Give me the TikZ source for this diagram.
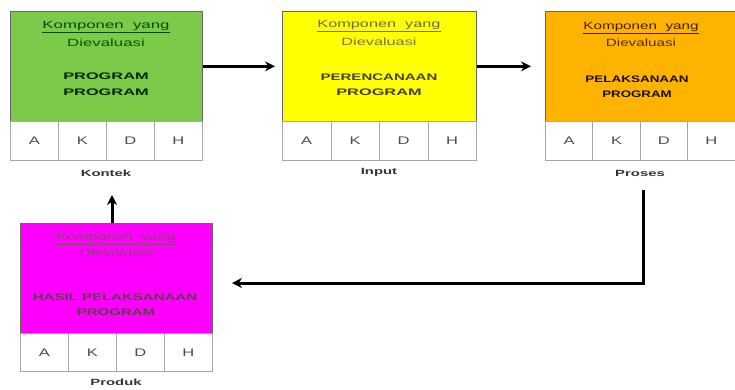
\documentclass[tikz,border=0pt]{standalone}
\usepackage{fontspec}
\setmainfont{Liberation Sans}
\usetikzlibrary{arrows.meta}
\definecolor{cgreen}{HTML}{7DC94A}
\definecolor{cyellow}{HTML}{FFFF00}
\definecolor{corange}{HTML}{FDB300}
\definecolor{cpink}{HTML}{FF00FF}
\newcommand{\sx}[2]{\scalebox{#1}[1]{#2}}
\tikzset{
  bigbox/.style={draw=black!60, line width=0.6pt, anchor=north west, minimum width=192pt, minimum height=110pt, inner sep=0pt},
  cellbox/.style={draw=black!35, line width=0.8pt, fill=white, anchor=north west, minimum width=48pt, minimum height=39pt, inner sep=0pt, font=\fontsize{11}{13}\selectfont, text=black!70},
  ttl/.style={font=\fontsize{10.5}{12}\selectfont, inner sep=0pt},
  bld/.style={font=\fontsize{9.5}{11}\selectfont\bfseries, inner sep=0pt},
  lbl/.style={font=\fontsize{9}{10}\selectfont\bfseries, text=black!80, inner sep=0pt},
  arr/.style={line width=3pt, -{Stealth[length=10pt,width=10pt]}}
}
\begin{document}
\begin{tikzpicture}[x=1pt,y=-1pt]
\useasboundingbox[fill=white] (0,0) rectangle (735,389);
% ---- box 1 (green)
\node[bigbox, fill=cgreen] (b1) at (10,11) {};
\node[ttl, text=green!30!black] (b1t1) at (106,27) {\sx{1.6}{\underline{Komponen\ \ yang}}};
\node[ttl, text=green!35!black] (b1t2) at (106,43) {\sx{1.6}{Dievaluasi}};
\node[bld, text=green!15!black] (b1m1) at (106,76) {\sx{1.72}{PROGRAM}};
\node[bld, text=green!15!black] (b1m2) at (106,92) {\sx{1.72}{PROGRAM}};
\node[cellbox] (b1a) at (10,121) {\sx{1.5}{A}};
\node[cellbox] (b1k) at (58,121) {\sx{1.5}{K}};
\node[cellbox] (b1d) at (106,121) {\sx{1.5}{D}};
\node[cellbox] (b1h) at (154,121) {\sx{1.5}{H}};
\node[lbl] (l1) at (106,173) {\sx{1.65}{Kontek}};
% ---- box 2 (yellow)
\node[bigbox, fill=cyellow, minimum width=194pt] (b2) at (282,11) {};
\node[ttl, text=yellow!35!black] (b2t1) at (379,26) {\sx{1.55}{\underline{Komponen\ \ yang}}};
\node[ttl, text=yellow!40!black] (b2t2) at (379,42) {\sx{1.55}{Dievaluasi}};
\node[bld, text=yellow!15!black] (b2m1) at (379,77) {\sx{1.58}{PERENCANAAN}};
\node[bld, text=yellow!15!black] (b2m2) at (379,92) {\sx{1.72}{PROGRAM}};
\node[cellbox, minimum width=48.5pt] (b2a) at (282,121) {\sx{1.5}{A}};
\node[cellbox, minimum width=48.5pt] (b2k) at (330.5,121) {\sx{1.5}{K}};
\node[cellbox, minimum width=48.5pt] (b2d) at (379,121) {\sx{1.5}{D}};
\node[cellbox, minimum width=48.5pt] (b2h) at (427.5,121) {\sx{1.5}{H}};
\node[lbl] (l2) at (379,172) {\sx{1.65}{Input}};
% ---- box 3 (orange)
\node[bigbox, fill=corange, minimum width=189.5pt] (b3) at (545,11) {};
\node[ttl, text=orange!25!black] (b3t1) at (641,28) {\sx{1.45}{\underline{Komponen\ \ yang}}};
\node[ttl, text=orange!35!black] (b3t2) at (641,43) {\sx{1.45}{Dievaluasi}};
\node[bld, text=orange!10!black] (b3m1) at (637,79) {\sx{1.42}{PELAKSANAAN}};
\node[bld, text=orange!10!black] (b3m2) at (637,94) {\sx{1.4}{PROGRAM}};
\node[cellbox, minimum width=47.4pt] (b3a) at (545,121) {\sx{1.5}{A}};
\node[cellbox, minimum width=47.4pt] (b3k) at (592.4,121) {\sx{1.5}{K}};
\node[cellbox, minimum width=47.4pt] (b3d) at (639.8,121) {\sx{1.5}{D}};
\node[cellbox, minimum width=47.4pt] (b3h) at (687.2,121) {\sx{1.5}{H}};
\node[lbl] (l3) at (640,173) {\sx{1.65}{Proses}};
% ---- box 4 (magenta)
\node[bigbox, fill=cpink] (b4) at (20,223) {};
\node[ttl, text=magenta!45!black] (b4t1) at (116,239) {\sx{1.5}{\underline{Komponen\ \ yang}}};
\node[ttl, text=magenta!45!black] (b4t2) at (116,253) {\sx{1.5}{Dievaluasi}};
\node[bld, text=magenta!25!black] (b4m1) at (115,297) {\sx{1.58}{HASIL PELAKSANAAN}};
\node[bld, text=magenta!25!black] (b4m2) at (116,312) {\sx{1.58}{PROGRAM}};
\node[cellbox, minimum height=38pt] (b4a) at (20,333) {\sx{1.5}{A}};
\node[cellbox, minimum height=38pt] (b4k) at (68,333) {\sx{1.5}{K}};
\node[cellbox, minimum height=38pt] (b4d) at (116,333) {\sx{1.5}{D}};
\node[cellbox, minimum height=38pt] (b4h) at (164,333) {\sx{1.5}{H}};
\node[lbl] (l4) at (116,382) {\sx{1.65}{Produk}};
% ---- connectors
\draw[arr, shorten >=7pt] (b1.east) -- (b2.west);
\draw[arr, shorten >=14pt] (b2.east) -- (b3.west);
\coordinate (upend) at (112,195);
\draw[arr] (upend |- b4.north) -- (upend);
\coordinate (elbs) at (643,190);
\coordinate (elbe) at (232,283);
\draw[arr] (elbs) |- (elbe);
\end{tikzpicture}
\end{document}
